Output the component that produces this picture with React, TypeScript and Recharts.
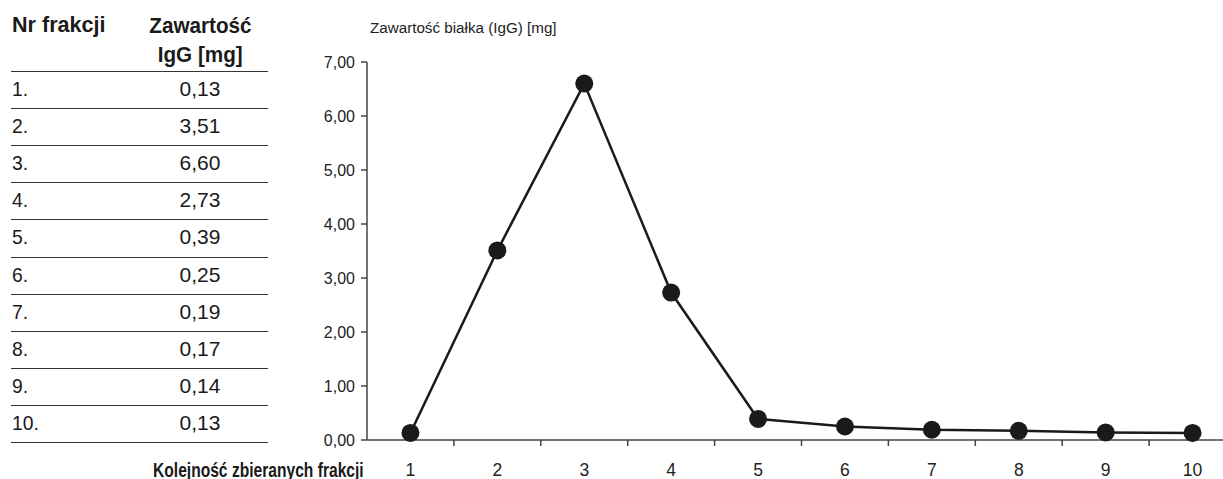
import React from 'react';
import { LineChart, Line, XAxis, YAxis } from 'recharts';

const fractions = [1, 2, 3, 4, 5, 6, 7, 8, 9, 10];
const iggValues = [0.13, 3.51, 6.6, 2.73, 0.39, 0.25, 0.19, 0.17, 0.14, 0.13];
const yTicks = [0, 1, 2, 3, 4, 5, 6, 7];
const midTicks = fractions.slice(0, -1).map(f => f + 0.5);

const tableHeader = ['Nr frakcji', 'Zawartość', 'IgG [mg]'];
const yTitle = 'Zawartość białka (IgG) [mg]';
const xTitle = 'Kolejność zbieranych frakcji';

const data = fractions.map((f, i) => ({ fraction: f, igg: iggValues[i] }));

const FONT = "'Liberation Sans', Arial, sans-serif";
const INK = '#1a1a1a';
const AXIS = '#444';

const fmt = (v: number) => v.toFixed(2).replace('.', ',');

const ROW_H = 37.1;
const TABLE_TOP = 71;

// narrow text the way a condensed face would look
const Narrow = ({ s, origin = 'left center', children }: any) => (
  <span style={{ display: 'inline-block', transform: `scaleX(${s})`, transformOrigin: origin, whiteSpace: 'nowrap' }}>
    {children}
  </span>
);

const XTick = (props: any) => {
  const { x, y, payload } = props;
  const v = payload.value;
  if (Number.isInteger(v)) {
    return (
      <text x={x} y={y + 36} textAnchor="middle" fontSize={17.5} fontFamily={FONT} fill="#222">
        {v}
      </text>
    );
  }
  return <line x1={x} y1={y} x2={x} y2={y + 6} stroke={AXIS} strokeWidth={1.5} />;
};

const FractionTable = () => (
  <div style={{ position: 'absolute', left: 0, top: 0, width: 280, height: 479, fontFamily: FONT, color: INK }}>
    <div style={{ position: 'absolute', left: 12, top: 14, fontSize: 22, lineHeight: '22px', fontWeight: 'bold' }}>
      <Narrow s={0.98}>{tableHeader[0]}</Narrow>
    </div>
    <div
      style={{
        position: 'absolute',
        left: 140,
        width: 120,
        top: 11,
        fontSize: 22,
        fontWeight: 'bold',
        textAlign: 'center',
        lineHeight: '29px'
      }}
    >
      <Narrow s={0.94} origin="center">{tableHeader[1]}</Narrow>
      <br />
      <Narrow s={0.94} origin="center">{tableHeader[2]}</Narrow>
    </div>
    {fractions.map((f, i) => (
      <div
        key={f}
        style={{
          position: 'absolute',
          left: 11,
          width: 257,
          top: TABLE_TOP + i * ROW_H,
          height: ROW_H,
          borderTop: '1.5px solid #333',
          boxSizing: 'border-box',
          fontSize: 21,
          lineHeight: `${ROW_H - 3}px`
        }}
      >
        <span style={{ position: 'absolute', left: 1 }}>
          <Narrow s={0.92}>{f}.</Narrow>
        </span>
        <span style={{ position: 'absolute', left: 129, width: 120, textAlign: 'center' }}>{fmt(iggValues[i])}</span>
      </div>
    ))}
    <div
      style={{
        position: 'absolute',
        left: 11,
        width: 257,
        top: TABLE_TOP + fractions.length * ROW_H,
        borderTop: '1.5px solid #333'
      }}
    />
  </div>
);

export default function App() {
  return (
    <div
      style={{
        position: 'absolute',
        left: 0,
        top: 0,
        width: 1223,
        height: 479,
        overflow: 'hidden',
        background: '#fff'
      }}
    >
      <FractionTable />
      <div
        style={{
          position: 'absolute',
          left: 370,
          top: 20,
          fontSize: 15.5,
          lineHeight: '16px',
          fontFamily: FONT,
          color: '#222'
        }}
      >
        <Narrow s={0.98}>{yTitle}</Narrow>
      </div>
      <div
        style={{
          position: 'absolute',
          left: 153,
          top: 460,
          fontSize: 19.5,
          lineHeight: '20px',
          fontWeight: 'bold',
          fontFamily: FONT,
          color: INK
        }}
      >
        <Narrow s={0.8}>{xTitle}</Narrow>
      </div>
      <div style={{ position: 'absolute', left: 0, top: 0 }}>
        <LineChart width={1250} height={479} data={data} margin={{ top: 62, right: 14, bottom: 0, left: 0 }}>
          <XAxis
            dataKey="fraction"
            type="number"
            domain={[0.5, 10.5]}
            ticks={[...fractions, ...midTicks]}
            interval={0}
            tick={<XTick />}
            tickLine={false}
            tickSize={0}
            tickMargin={0}
            height={39}
            stroke={AXIS}
            strokeWidth={1.5}
          />
          <YAxis
            type="number"
            domain={[0, 7]}
            ticks={yTicks}
            interval={0}
            width={367}
            tickSize={6}
            tickMargin={6}
            tickFormatter={fmt}
            tick={{ fontSize: 16, fontFamily: FONT, fill: '#222' }}
            stroke={AXIS}
            strokeWidth={1.5}
          />
          <Line
            type="linear"
            dataKey="igg"
            stroke={INK}
            strokeWidth={2.5}
            dot={{ r: 9, fill: INK, stroke: INK, strokeWidth: 0 }}
            isAnimationActive={false}
          />
        </LineChart>
      </div>
    </div>
  );
}
